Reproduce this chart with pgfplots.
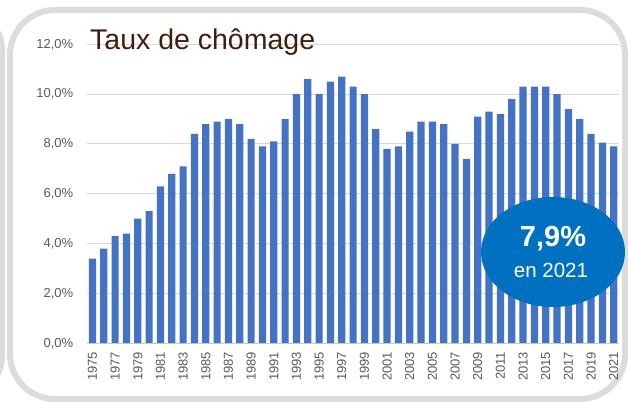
\documentclass[border=0pt]{standalone}
\usepackage{pgfplots}
\pgfplotsset{compat=1.18}
\usepackage{fontspec}
\setmainfont{Liberation Sans}
\definecolor{barblue}{HTML}{4472C4}
\definecolor{gridgray}{HTML}{D9D9D9}
\definecolor{framegray}{HTML}{DCDCDC}
\definecolor{ticktext}{HTML}{595959}
\definecolor{titlebrown}{HTML}{3E1F10}
\definecolor{ellblue}{HTML}{0070C0}
\begin{document}
\begin{tikzpicture}[x=1pt,y=1pt]
\useasboundingbox (0,0) rectangle (628,401);
\begin{scope}
\clip (0,0) rectangle (628,401);
\draw[framegray, line width=5pt, rounded corners=40pt] (-300,5) rectangle (2.5,391);
\draw[framegray, line width=6pt, rounded corners=45pt] (10,2) rectangle (625,391);
\end{scope}
\begin{axis}[
  at={(86.8pt,57.7pt)}, anchor=south west,
  scale only axis, width=532.6pt, height=299pt,
  xmin=1974.5, xmax=2021.5, ymin=0, ymax=12,
  axis line style={draw=none},
  ytick={0,2,...,12},
  xtick={1975,1977,...,2021},
  ymajorgrids, grid style={gridgray, line width=1pt},
  major tick length=0pt,
  /pgf/number format/assume math mode=true,
  xticklabel={\pgfmathprintnumber[1000 sep={}]{\tick}},
  yticklabel={\pgfmathprintnumber[fixed,fixed zerofill,precision=1,use comma]{\tick}\%},
  xticklabel style={rotate=90, anchor=east, font=\fontsize{13}{15}\selectfont, text=ticktext, xshift=-5pt},
  yticklabel style={anchor=east, font=\fontsize{13}{15}\selectfont, text=ticktext, xshift=-10pt},
  clip=false,
]
\addplot[ybar, bar width=7.2pt, fill=barblue, draw=none] coordinates {
(1975,3.4) (1976,3.8) (1977,4.3) (1978,4.4) (1979,5.0) (1980,5.3)
(1981,6.3) (1982,6.8) (1983,7.1) (1984,8.4) (1985,8.8) (1986,8.9)
(1987,9.0) (1988,8.8) (1989,8.2) (1990,7.9) (1991,8.1) (1992,9.0)
(1993,10.0) (1994,10.6) (1995,10.0) (1996,10.5) (1997,10.7) (1998,10.3)
(1999,10.0) (2000,8.6) (2001,7.8) (2002,7.9) (2003,8.5) (2004,8.9)
(2005,8.9) (2006,8.8) (2007,8.0) (2008,7.4) (2009,9.1) (2010,9.3)
(2011,9.2) (2012,9.8) (2013,10.3) (2014,10.3) (2015,10.3) (2016,10.0)
(2017,9.4) (2018,9.0) (2019,8.4) (2020,8.05) (2021,7.9)
};
\draw[gridgray!80!gray, line width=1pt] (axis cs:1974.5,0) -- (axis cs:2021.5,0);
\end{axis}
\node[anchor=base west, inner sep=0pt, text=titlebrown, font=\fontsize{28.5}{32}\selectfont] at (90,351) {Taux de chômage};
\fill[ellblue] (553,149) ellipse [x radius=72, y radius=55];
\node[text=white, font=\bfseries\fontsize{29}{32}\selectfont, inner sep=0pt] at (553,162) {7,9\%};
\node[text=white, font=\fontsize{20.5}{24}\selectfont, inner sep=0pt] at (551,131) {en 2021};
\end{tikzpicture}
\end{document}
